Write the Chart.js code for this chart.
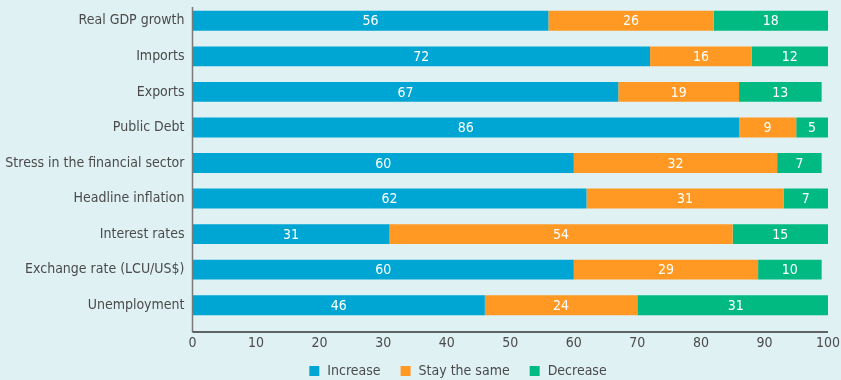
<!DOCTYPE html>
<html lang="en">
<head>
  <meta charset="UTF-8">
  <script src="https://cdn.jsdelivr.net/npm/chart.js"></script>
  <title>Expectations survey</title>
  <style>
    body {
      margin: 0;
      padding: 0;
      background: #e0f1f4;
      overflow: hidden;
    }
    .chart-box {
      width: 841px;
      height: 380px;
    }
  </style>
</head>
<body>
  <div class="chart-box">
    <canvas id="surveyChart" width="841" height="380"></canvas>
  </div>

  <script>
    const categories = [
      'Real GDP growth',
      'Imports',
      'Exports',
      'Public Debt',
      'Stress in the financial sector',
      'Headline inflation',
      'Interest rates',
      'Exchange rate (LCU/US$)',
      'Unemployment'
    ];
    const increase = [56, 72, 67, 86, 60, 62, 31, 60, 46];
    const stayTheSame = [26, 16, 19, 9, 32, 31, 54, 29, 24];
    const decrease = [18, 12, 13, 5, 7, 7, 15, 10, 31];
    const xTicks = [0, 10, 20, 30, 40, 50, 60, 70, 80, 90, 100];

    const FONT = "'DejaVu Sans Condensed', 'Liberation Sans Narrow', sans-serif";
    const TEXT = '#4a4a4a';

    // white numbers in the middle of every segment
    const segmentLabels = {
      id: 'segmentLabels',
      afterDatasetsDraw(chart) {
        const ctx = chart.ctx;
        ctx.save();
        ctx.fillStyle = '#ffffff';
        ctx.font = '14px ' + FONT;
        ctx.textAlign = 'center';
        ctx.textBaseline = 'middle';
        chart.data.datasets.forEach((ds, i) => {
          chart.getDatasetMeta(i).data.forEach((bar, j) => {
            const mid = (bar.x + bar.base) / 2;
            ctx.fillText(String(ds.data[j]), mid, bar.y + 1);
          });
        });
        ctx.restore();
      }
    };

    // axis lines run a little lower than the bar area
    const axisLines = {
      id: 'axisLines',
      afterDraw(chart) {
        const { ctx, chartArea } = chart;
        const yAxisTop = chartArea.top + 4;
        const xAxisY = chartArea.bottom + 9;
        ctx.save();
        ctx.lineWidth = 1.5;
        ctx.strokeStyle = '#7a7a7a';
        ctx.beginPath();
        ctx.moveTo(chartArea.left, yAxisTop);
        ctx.lineTo(chartArea.left, xAxisY);
        ctx.stroke();
        ctx.strokeStyle = '#333333';
        ctx.beginPath();
        ctx.moveTo(chartArea.left, xAxisY);
        ctx.lineTo(chartArea.right, xAxisY);
        ctx.stroke();
        ctx.restore();
      }
    };

    // legend row: square swatch + name, centred under the chart
    const legendRow = {
      id: 'legendRow',
      afterDraw(chart) {
        const ctx = chart.ctx;
        const box = 10, gap = 8, spacing = 20;
        const rowY = 371, centerX = 458;
        ctx.save();
        ctx.font = '14px ' + FONT;
        ctx.textBaseline = 'middle';
        const items = chart.data.datasets.map(ds => ({
          label: ds.label,
          color: ds.backgroundColor,
          w: box + gap + ctx.measureText(ds.label).width
        }));
        const total = items.reduce((s, it) => s + it.w, 0) + spacing * (items.length - 1);
        let x = centerX - total / 2;
        items.forEach(it => {
          ctx.fillStyle = it.color;
          ctx.fillRect(x, rowY - box / 2, box, box);
          ctx.fillStyle = TEXT;
          ctx.fillText(it.label, x + box + gap, rowY);
          x += it.w + spacing;
        });
        ctx.restore();
      }
    };

    const noPadding = (scale) => {
      scale.paddingTop = 0;
      scale.paddingBottom = 0;
      scale.paddingLeft = 0;
      scale.paddingRight = 0;
    };

    const ctx = document.getElementById('surveyChart').getContext('2d');
    new Chart(ctx, {
      type: 'bar',
      data: {
        labels: categories,
        datasets: [
          { label: 'Increase', data: increase, backgroundColor: '#00a6d3' },
          { label: 'Stay the same', data: stayTheSame, backgroundColor: '#ff9924' },
          { label: 'Decrease', data: decrease, backgroundColor: '#00ba82' }
        ]
      },
      options: {
        indexAxis: 'y',
        responsive: false,
        animation: false,
        layout: { padding: { top: 3, right: 13, left: 0, bottom: 24 } },
        datasets: {
          bar: { barPercentage: 0.56, categoryPercentage: 1, borderWidth: 0 }
        },
        scales: {
          x: {
            stacked: true,
            min: 0,
            max: 100,
            afterBuildTicks: (scale) => {
              scale.ticks = xTicks.map(v => ({ value: v }));
            },
            afterFit: (scale) => {
              scale.height = 33;
              noPadding(scale);
            },
            grid: { display: false, drawTicks: false },
            border: { display: false },
            ticks: {
              padding: 12,
              maxRotation: 0,
              color: TEXT,
              font: { family: FONT, size: 14 }
            }
          },
          y: {
            stacked: true,
            afterFit: (scale) => {
              scale.width = 192.5;
              noPadding(scale);
            },
            grid: { display: false, drawTicks: false },
            border: { display: false },
            ticks: {
              padding: 8,
              color: TEXT,
              font: { family: FONT, size: 14 }
            }
          }
        },
        plugins: {
          tooltip: { enabled: false },
          legend: { display: false }
        }
      },
      plugins: [segmentLabels, axisLines, legendRow]
    });
  </script>
</body>
</html>
